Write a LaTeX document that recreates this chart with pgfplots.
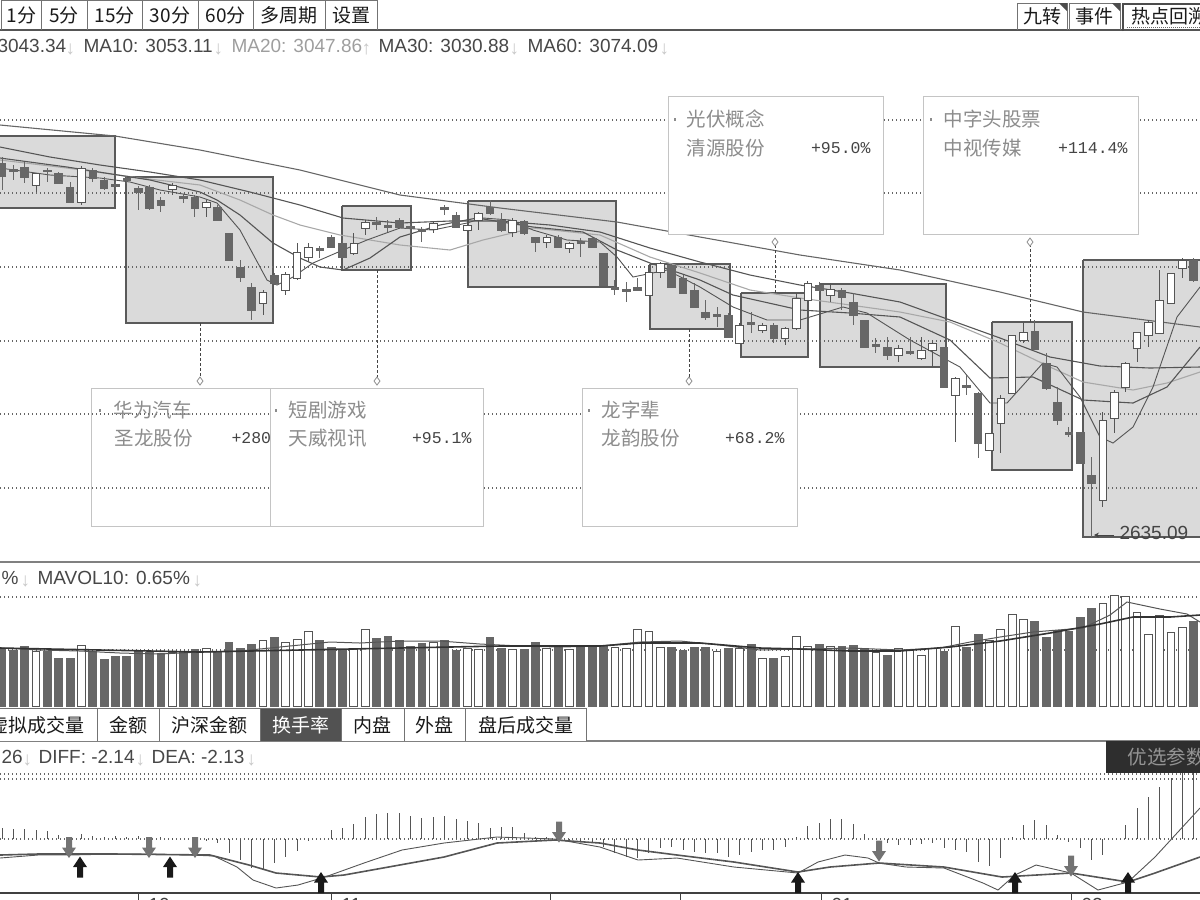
\documentclass[border=0pt]{standalone}
\usepackage{pgfplots}
\pgfplotsset{compat=1.18}
\usepackage{pgfplotstable}
\usepackage{fontspec}
\setmainfont{Liberation Sans}
\newfontfamily\cjk{Noto Sans CJK SC}
\newfontfamily\mono{Liberation Mono}
\usetikzlibrary{arrows.meta}

\definecolor{cd}{HTML}{555555}
\definecolor{cf}{HTML}{676767}
\definecolor{bxf}{HTML}{DADADA}
\definecolor{bxd}{HTML}{5A5A5A}
\definecolor{ma20}{HTML}{A8A8A8}
\definecolor{grd}{HTML}{666666}
\definecolor{cbr}{HTML}{C4C4C4}
\definecolor{ctx}{HTML}{8C8C8C}
\definecolor{ptx}{HTML}{444444}
\definecolor{arr}{HTML}{C8C8C8}

\pgfdeclareplotmark{darrow}{%
  \pgfpathmoveto{\pgfqpoint{-3pt}{10.5pt}}%
  \pgfpathlineto{\pgfqpoint{3pt}{10.5pt}}%
  \pgfpathlineto{\pgfqpoint{3pt}{0pt}}%
  \pgfpathlineto{\pgfqpoint{7pt}{0pt}}%
  \pgfpathlineto{\pgfqpoint{0pt}{-10.5pt}}%
  \pgfpathlineto{\pgfqpoint{-7pt}{0pt}}%
  \pgfpathlineto{\pgfqpoint{-3pt}{0pt}}%
  \pgfpathclose
  \pgfusepathqfill
}
\pgfdeclareplotmark{uarrow}{%
  \pgfpathmoveto{\pgfqpoint{-3pt}{-10.5pt}}%
  \pgfpathlineto{\pgfqpoint{3pt}{-10.5pt}}%
  \pgfpathlineto{\pgfqpoint{3pt}{0pt}}%
  \pgfpathlineto{\pgfqpoint{7pt}{0pt}}%
  \pgfpathlineto{\pgfqpoint{0pt}{10.5pt}}%
  \pgfpathlineto{\pgfqpoint{-7pt}{0pt}}%
  \pgfpathlineto{\pgfqpoint{-3pt}{0pt}}%
  \pgfpathclose
  \pgfusepathqfill
}

\pgfplotsset{
  ebar/.style 2 args={draw=none, mark=none, forget plot,
    error bars/.cd, y dir=both, y explicit, error mark=none,
    error bar style={draw=#2, line width=#1, solid}},
}

% candles: i, body top, wick up, wick down, body height (pixel units)
\pgfplotstableread{
i bt wu wd bh
3 173 0 19 12
7 168 2 37 34
15 185 2 10 4
18 202 2 15 5
23 292 2 23 11
25 274 2 21 16
26 252 9 28 26
27 247 4 15 10
31 243 10 12 10
32 222 2 13 6
38 223 1 10 6
41 225 2 7 5
42 213 1 17 7
45 220 2 17 12
48 237 2 11 5
50 243 1 10 5
57 272 7 23 23
58 263 1 15 9
65 325 2 18 18
67 325 2 8 5
69 328 1 17 10
70 298 5 32 30
71 283 2 17 17
73 289 6 13 6
79 348 3 14 7
81 350 13 10 8
82 343 3 24 7
84 378 1 64 17
87 433 0 17 17
88 398 3 55 25
89 335 0 58 58
90 332 10 11 8
97 420 8 87 80
98 392 2 41 26
99 363 1 29 24
100 332 0 30 16
101 322 2 25 13
102 300 30 33 33
103 273 0 30 30
104 260 2 18 8
}\candup
\pgfplotstableread{
i bt wu wd bh
0 163 6 27 13
1 169 4 11 2
2 167 5 16 10
4 170 2 12 1.5
5 173 1 11 10
6 187 5 15 15
8 170 2 12 8
9 180 3 10 8
10 184 2 6 2
11 178 2 6 2
12 188 2 22 4
13 187 2 23 21
14 200 3 12 5
16 196 2 7 2
17 197 2 20 11
19 207 2 13 13
20 233 0 27 27
21 267 7 15 10
22 287 4 33 23
24 275 2 10 8
28 248 2 10 2
29 237 2 11 10
30 243 3 15 14
33 222 5 8 2
34 225 5 7 2
35 220 2 9 7
36 226 2 9 2
37 229 2 13 2
39 207 2 8 2
40 215 3 12 12
43 207 7 8 6
44 220 7 12 10
46 221 1 14 12
47 237 0 15 5
49 237 2 11 10
51 241 3 16 2
52 238 1 10 9
53 253 0 32 32
54 287 7 8 2
55 289 7 13 2
56 287 9 3 3
59 265 1 22 22
60 278 3 15 15
61 290 7 17 17
62 312 12 8 5
63 314 7 13 2
64 315 2 22 22
66 322 10 11 2
68 325 2 18 13
72 285 3 7 5
74 290 2 20 7
75 302 9 23 13
76 320 0 27 27
77 344 6 9 2
78 347 10 13 8
80 351 14 4 2
83 347 0 40 40
85 385 10 10 2
86 393 1 65 50
91 331 11 19 18
92 363 10 27 25
93 402 15 23 18
94 432 5 5 2
95 432 0 31 31
96 475 18 62 8
105 260 2 22 20
}\canddn

% volume bar heights (pixel units above base line)
\pgfplotstableread{
i h
3 55
7 61
15 54
18 58
23 66
25 64
26 67
27 75
31 57
32 77
38 64
41 58
42 57
45 57
48 58
50 57
54 59
55 58
56 77
57 75
58 59
63 55
65 58
67 48
69 50
70 70
71 60
73 60
77 54
79 58
80 56
81 51
82 58
84 80
87 66
88 77
89 92
90 87
97 103
98 111
99 110
100 94
101 72
102 91
103 74
104 79
}\volup
\pgfplotstableread{
i h
0 58
1 56
2 60
4 55
5 48
6 48
8 55
9 47
10 50
11 50
12 55
13 54
14 53
16 55
17 57
19 54
20 64
21 58
22 62
24 69
28 66
29 59
30 56
33 68
34 70
35 66
36 60
37 63
39 66
40 56
43 69
44 58
46 57
47 64
49 59
51 60
52 60
53 60
59 59
60 56
61 59
62 59
64 58
66 62
68 48
72 62
74 60
75 61
76 58
78 51
83 55
85 59
86 72
91 85
92 69
93 76
94 75
95 89
96 98
105 85
}\voldn

% MACD histogram (pixel units above zero line)
\pgfplotstableread{
i hv
0 11
1 10
2 10
3 9
4 8
5 4
6 1
7 5
8 3
9 2
10 3
11 2
12 3
13 0
14 2
15 1
16 0
17 0
18 -1
19 -4
20 -14
21 -21
22 -29
23 -31
24 -24
25 -18
26 -12
27 -2
28 0
29 9
30 11
31 15
32 22
33 25
34 26
35 26
36 23
37 21
38 22
39 23
40 20
41 18
42 16
43 11
44 12
45 12
46 6
47 2
48 2
49 2
50 -3
51 -3
52 -4
53 -8
54 -14
55 -18
56 -19
57 -14
58 -9
59 -8
60 -11
61 -13
62 -14
63 -14
64 -18
65 -16
66 -13
67 -11
68 -11
69 -8
70 2
71 13
72 16
73 20
74 20
75 15
76 5
77 0
78 -4
79 -6
80 -6
81 -5
82 -4
83 -9
84 -11
85 -13
86 -23
87 -27
88 -19
89 2
90 14
91 19
92 14
93 4
94 -3
95 -9
96 -21
97 -16
98 0
99 14
100 31
101 42
102 52
103 61
104 66
105 66
}\macdh

\newcommand\fL{\fontsize{19}{22}\selectfont}
\newcommand\fC{\cjk\fontsize{19}{22}\selectfont}
\newcommand\fB{\cjk\fontsize{19.5}{23}\selectfont}
\newcommand\fM{\mono\fontsize{16.5}{19}\selectfont}

\begin{document}
\begin{tikzpicture}
\begin{axis}[
  at={(0pt,0pt)}, anchor=north west,
  width=1200pt, height=900pt, scale only axis,
  xmin=0, xmax=1200, ymin=0, ymax=900, y dir=reverse,
  hide axis, clip=false,
  every node/.style={inner sep=0pt, outer sep=0pt},
]
% ---------- event boxes ----------
\addplot[fill=bxf, draw=bxd, line width=1.5pt] coordinates {(-5,136) (115,136) (115,208) (-5,208) (-5,136)};
\addplot[fill=bxf, draw=bxd, line width=1.5pt] coordinates {(126,177) (273,177) (273,323) (126,323) (126,177)};
\addplot[fill=bxf, draw=bxd, line width=1.5pt] coordinates {(342,206) (411,206) (411,270) (342,270) (342,206)};
\addplot[fill=bxf, draw=bxd, line width=1.5pt] coordinates {(468,201) (616,201) (616,287) (468,287) (468,201)};
\addplot[fill=bxf, draw=bxd, line width=1.5pt] coordinates {(650,264) (730,264) (730,329) (650,329) (650,264)};
\addplot[fill=bxf, draw=bxd, line width=1.5pt] coordinates {(741,293) (808,293) (808,357) (741,357) (741,293)};
\addplot[fill=bxf, draw=bxd, line width=1.5pt] coordinates {(820,284) (946,284) (946,367) (820,367) (820,284)};
\addplot[fill=bxf, draw=bxd, line width=1.5pt] coordinates {(992,322) (1072,322) (1072,470) (992,470) (992,322)};
\addplot[fill=bxf, draw=bxd, line width=1.5pt] coordinates {(1083,260) (1210,260) (1210,537) (1083,537) (1083,260)};

% ---------- grid lines ----------
\pgfplotsinvokeforeach{120,193,267,341,414,488,597,650,774,779,839}{
  \addplot[grd, line width=1.2pt, dash pattern=on 1.3pt off 2.7pt] coordinates {(0,#1) (1200,#1)};
}

% ---------- moving averages ----------
\addplot[color=cd!90, line width=1.1pt] coordinates {(0,125)(115,136)(200,150)(300,170)(400,195)(500,208)(617,222)(700,237)(800,255)(900,270)(1000,292)(1083,312)(1200,327)};
\addplot[color=cd, line width=1.1pt] coordinates {(0,147)(50,157)(100,165)(150,172)(200,180)(250,192)(300,205)(343,218)(400,223)(450,221)(500,221)(550,225)(600,232)(650,248)(700,262)(750,275)(800,285)(850,293)(900,302)(950,320)(1000,338)(1050,357)(1100,366)(1150,368)(1200,367)};
\addplot[color=ma20, line width=1.1pt] coordinates {(0,160)(67,168)(140,178)(200,185)(240,200)(273,215)(300,225)(340,235)(400,245)(450,250)(483,240)(533,228)(600,235)(650,257)(700,273)(750,290)(800,298)(850,305)(900,312)(950,322)(1000,343)(1050,367)(1083,382)(1133,390)(1167,383)(1200,372)};
\addplot[color=cd, line width=1.1pt] coordinates {(0,158)(67,167)(150,180)(200,192)(217,200)(240,215)(273,243)(300,258)(320,267)(343,270)(370,258)(400,237)(440,225)(477,218)(533,227)(583,232)(617,250)(650,263)(700,280)(733,295)(800,310)(850,313)(900,317)(950,340)(990,378)(1033,377)(1083,400)(1133,403)(1167,387)(1200,347)};
\addplot[color=cd, line width=0.9pt] coordinates {(0,168)(50,175)(100,178)(130,182)(160,190)(200,197)(217,203)(240,230)(267,280)(277,285)(293,277)(313,263)(343,250)(367,240)(400,228)(433,230)(467,223)(483,218)(510,220)(533,230)(567,240)(600,242)(617,257)(633,277)(667,270)(700,287)(733,307)(767,320)(800,320)(843,307)(867,313)(910,340)(960,367)(990,403)(1007,403)(1043,363)(1057,367)(1080,397)(1100,437)(1113,443)(1133,427)(1153,387)(1177,317)(1200,287)};

% ---------- candles (wick, body) ----------
\addplot[ebar={1pt}{cf}] table[x expr=2+11.35*\thisrow{i}, y expr=\thisrow{bt}+(\thisrow{wd}-\thisrow{wu})/2, y error expr=(\thisrow{wd}+\thisrow{wu})/2] {\canddn};
\addplot[ebar={8.6pt}{cf}] table[x expr=2+11.35*\thisrow{i}, y expr=\thisrow{bt}+\thisrow{bh}/2, y error expr=\thisrow{bh}/2+0.5] {\canddn};
\addplot[ebar={1pt}{cd}] table[x expr=2+11.35*\thisrow{i}, y expr=\thisrow{bt}+(\thisrow{wd}-\thisrow{wu})/2, y error expr=(\thisrow{wd}+\thisrow{wu})/2] {\candup};
\addplot[ebar={8.6pt}{cd}] table[x expr=2+11.35*\thisrow{i}, y expr=\thisrow{bt}+\thisrow{bh}/2, y error expr=\thisrow{bh}/2+0.5] {\candup};
\addplot[ebar={6.6pt}{white}] table[x expr=2+11.35*\thisrow{i}, y expr=\thisrow{bt}+\thisrow{bh}/2, y error expr=\thisrow{bh}/2-0.5] {\candup};

% ---------- callouts ----------
\draw[densely dashed, color=ptx, line width=1pt] (200,323) -- (200,377);
\draw[densely dashed, color=ptx, line width=1pt] (377,270) -- (377,377);
\draw[densely dashed, color=ptx, line width=1pt] (689,329) -- (689,377);
\draw[densely dashed, color=ptx, line width=1pt] (775,293) -- (775,246);
\draw[densely dashed, color=ptx, line width=1pt] (1030,322) -- (1030,246);
\addplot[only marks, mark=diamond*, mark size=4pt, mark options={draw=ctx, fill=white, line width=0.8pt}]
  coordinates {(200,381)(377,381)(689,381)(775,242)(1030,242)};

\draw[draw=cbr, line width=1pt] (91,388) rectangle (300,526);
\fill[color=ctx] (99,409) rectangle (101,412);
\node[anchor=west, text=ctx, font=\fB] at (110,410) {华为汽车};
\node[anchor=west, text=ctx, font=\fB] at (111,438) {圣龙股份};
\node[anchor=west, text=ptx, font=\fM] at (228,438) {+280};
\filldraw[fill=white, draw=cbr, line width=1pt] (270,388) rectangle (483,526);
\fill[color=ctx] (275,409) rectangle (277,412);
\node[anchor=west, text=ctx, font=\fB] at (285,410) {短剧游戏};
\node[anchor=west, text=ctx, font=\fB] at (285,438) {天威视讯};
\node[anchor=east, text=ptx, font=\fM] at (475,438) {+95.1\%};
\filldraw[fill=white, draw=cbr, line width=1pt] (582,388) rectangle (797,526);
\fill[color=ctx] (588,409) rectangle (590,412);
\node[anchor=west, text=ctx, font=\fB] at (598,410) {龙字辈};
\node[anchor=west, text=ctx, font=\fB] at (598,438) {龙韵股份};
\node[anchor=east, text=ptx, font=\fM] at (788,438) {+68.2\%};
\filldraw[fill=white, draw=cbr, line width=1pt] (668,96) rectangle (883,234);
\fill[color=ctx] (674,118) rectangle (676,121);
\node[anchor=west, text=ctx, font=\fB] at (683,119) {光伏概念};
\node[anchor=west, text=ctx, font=\fB] at (683,148) {清源股份};
\node[anchor=east, text=ptx, font=\fM] at (874,148) {+95.0\%};
\filldraw[fill=white, draw=cbr, line width=1pt] (923,96) rectangle (1138,234);
\fill[color=ctx] (930,118) rectangle (932,121);
\node[anchor=west, text=ctx, font=\fB] at (940,119) {中字头股票};
\node[anchor=west, text=ctx, font=\fB] at (940,148) {中视传媒};
\node[anchor=east, text=ptx, font=\fM] at (1131,148) {+114.4\%};

% lowest price marker
\draw[-{Stealth[length=5pt,width=5pt]}, color=ptx, line width=1pt] (1114,535) -- (1094,535);
\node[anchor=west, text=ptx, font=\fL] at (1116,533) {2635.09};

% ---------- volume ----------
\addplot[ebar={8.8pt}{cf}] table[x expr=2+11.35*\thisrow{i}, y expr=706-\thisrow{h}/2, y error expr=\thisrow{h}/2+0.5] {\voldn};
\addplot[ebar={8.8pt}{cd}] table[x expr=2+11.35*\thisrow{i}, y expr=706-\thisrow{h}/2, y error expr=\thisrow{h}/2+0.5] {\volup};
\addplot[ebar={6.8pt}{white}] table[x expr=2+11.35*\thisrow{i}, y expr=706-\thisrow{h}/2, y error expr=\thisrow{h}/2-0.5] {\volup};
\addplot[color=cd, line width=1pt] coordinates {(0,648)(40,650)(80,651)(120,653)(160,654)(200,652)(240,651)(280,647)(300,645)(330,642)(360,643)(400,641)(440,641)(480,644)(520,646)(560,647)(600,646)(640,642)(680,641)(720,645)(760,650)(800,649)(850,648)(900,650)(940,648)(970,642)(1000,637)(1033,632)(1083,628)(1110,615)(1127,602)(1160,609)(1187,614)(1200,622)};
\addplot[color=black!80, line width=1.6pt] coordinates {(0,648)(100,650)(200,652)(300,650)(400,648)(500,646)(600,646)(640,643)(700,643)(760,648)(800,649)(850,651)(900,651)(950,647)(1000,641)(1050,633)(1100,624)(1133,617)(1170,617)(1200,615)};

% ---------- MACD ----------
\addplot[ebar={1pt}{cd}] table[x expr=2+11.35*\thisrow{i}, y expr=839-\thisrow{hv}/2, y error expr=abs(\thisrow{hv})/2] {\macdh};
\addplot[color=cd, line width=1.6pt] coordinates {(0,855)(38,854)(115,854)(210,855)(249,865)(276,873)(321,877)(344,875)(383,868)(444,857)(497,843)(555,840)(600,843)(638,850)(677,855)(734,862)(798,872)(830,867)(879,863)(944,867)(1002,877)(1071,873)(1128,882)(1155,873)(1200,857)};
\addplot[color=cd, line width=0.9pt] coordinates {(0,858)(38,855)(69,855)(115,854)(149,854)(191,855)(214,856)(237,867)(253,880)(276,888)(298,885)(325,877)(364,863)(402,850)(444,843)(497,837)(555,839)(600,847)(638,860)(677,858)(734,867)(798,873)(818,862)(845,855)(868,858)(879,863)(906,867)(944,868)(983,883)(998,890)(1015,875)(1036,865)(1071,873)(1098,890)(1128,882)(1155,857)(1200,808)};
\addplot[only marks, mark=darrow, color=black!55] coordinates {(69,847.5)(149,847.5)(195,847.5)(559,832)(879,851)(1071,866)};
\addplot[only marks, mark=uarrow, color=black!90] coordinates {(80,867)(170,867)(321,882.5)(798,882.5)(1015,882.5)(1128,882.5)};

% ---------- frame lines ----------
\draw[color=cd, line width=1.2pt] (0,30) -- (1200,30);
\draw[color=black!50, line width=1.8pt] (0,562) -- (1200,562);
\draw[color=black!50, line width=1.8pt] (0,741) -- (1200,741);
\draw[color=black!75, line width=1.5pt] (0,893) -- (1200,893);
\pgfplotsinvokeforeach{138,331,550,680,821,1071}{\draw[color=black!75, line width=1pt] (#1,893) -- (#1,900);}
\node[anchor=north west, text=black!75, font=\fL] at (145,895) {10};
\node[anchor=north west, text=black!75, font=\fL] at (338,895) {11};
\node[anchor=north west, text=black!75, font=\fL] at (828,895) {01};
\node[anchor=north west, text=black!75, font=\fL] at (1078,895) {02};

% ---------- toolbar ----------
\draw[color=black!55, line width=1pt] (1,0.5) -- (377,0.5);
\pgfplotsinvokeforeach{1,41,87,142,198,253,325,377}{\draw[color=black!55, line width=1pt] (#1,0) -- (#1,30);}
\node[text=black!90, font=\fC] at (21.5,15) {1分};
\node[text=black!90, font=\fC] at (64,15) {5分};
\node[text=black!90, font=\fC] at (114.5,15) {15分};
\node[text=black!90, font=\fC] at (170,15) {30分};
\node[text=black!90, font=\fC] at (225.5,15) {60分};
\node[text=black!90, font=\fC] at (289,15) {多周期};
\node[text=black!90, font=\fC] at (351,15) {设置};
\draw[color=black!55, line width=1pt] (1017,30) -- (1017,3) -- (1067,3) -- (1067,30);
\draw[color=black!55, line width=1pt] (1069,30) -- (1069,3) -- (1120,3) -- (1120,30);
\fill[color=black!70] (1059,3) -- (1067,3) -- (1067,11) -- cycle;
\fill[color=black!70] (1112,3) -- (1120,3) -- (1120,11) -- cycle;
\draw[color=black!70, line width=2.5pt] (1123,31) -- (1123,4) -- (1215,4);
\node[text=black!90, font=\fC] at (1042,16) {九转};
\node[text=black!90, font=\fC] at (1094,16) {事件};
\node[anchor=west, text=black!90, font=\fC] at (1128,16) {热点回溯};
\draw[color=black!60, line width=0.8pt, dash pattern=on 1pt off 1pt] (1127,27) -- (1200,27);

% ---------- legends ----------
\node[anchor=west, text=black!72, font=\fL] at (-6,46) {3043.34};
\node[anchor=west, text=arr, font=\fL] at (62,49) {↓};
\node[anchor=west, text=black!72, font=\fL] at (80,46) {MA10: 3053.11};
\node[anchor=west, text=arr, font=\fL] at (210,49) {↓};
\node[anchor=west, text=black!38, font=\fL] at (228,46) {MA20: 3047.86};
\node[anchor=west, text=arr, font=\fL] at (358,49) {↑};
\node[anchor=west, text=black!72, font=\fL] at (375,46) {MA30: 3030.88};
\node[anchor=west, text=arr, font=\fL] at (506,49) {↓};
\node[anchor=west, text=black!72, font=\fL] at (524,46) {MA60: 3074.09};
\node[anchor=west, text=arr, font=\fL] at (656,49) {↓};

\node[anchor=west, text=black!72, font=\fL] at (-2,578) {\%};
\node[anchor=west, text=arr, font=\fL] at (17,581) {↓};
\node[anchor=west, text=black!72, font=\fL] at (34,578) {MAVOL10: 0.65\%};
\node[anchor=west, text=arr, font=\fL] at (189,581) {↓};

\node[anchor=west, text=black!72, font=\fL] at (-2,757) {26};
\node[anchor=west, text=arr, font=\fL] at (19,760) {↓};
\node[anchor=west, text=black!72, font=\fL] at (35,757) {DIFF: -2.14};
\node[anchor=west, text=arr, font=\fL] at (132,760) {↓};
\node[anchor=west, text=black!72, font=\fL] at (148,757) {DEA: -2.13};
\node[anchor=west, text=arr, font=\fL] at (243,760) {↓};

% ---------- tabs ----------
\fill[color=white] (0,707.5) rectangle (587,741);
\fill[color=black!68] (260,708) rectangle (341,741);
\draw[color=black!55, line width=1pt] (0,708) -- (587,708);
\pgfplotsinvokeforeach{97,159,260,341,404,465,586}{\draw[color=black!55, line width=1pt] (#1,708) -- (#1,741);}
\node[anchor=east, text=black!90, font=\fC] at (88,725) {虚拟成交量};
\node[text=black!90, font=\fC] at (128,725) {金额};
\node[text=black!90, font=\fC] at (209.5,725) {沪深金额};
\node[text=white, font=\fC] at (300.5,725) {换手率};
\node[text=black!90, font=\fC] at (372.5,725) {内盘};
\node[text=black!90, font=\fC] at (434.5,725) {外盘};
\node[text=black!90, font=\fC] at (525.5,725) {盘后成交量};

% ---------- optimisation button ----------
\fill[color=black!82] (1106,741) rectangle (1210,773);
\node[anchor=west, text=black!42, font=\fB] at (1124,757) {优选参数};
\end{axis}
\pgfresetboundingbox
\path[use as bounding box] (current axis.south west) rectangle (current axis.north east);
\end{tikzpicture}
\end{document}
